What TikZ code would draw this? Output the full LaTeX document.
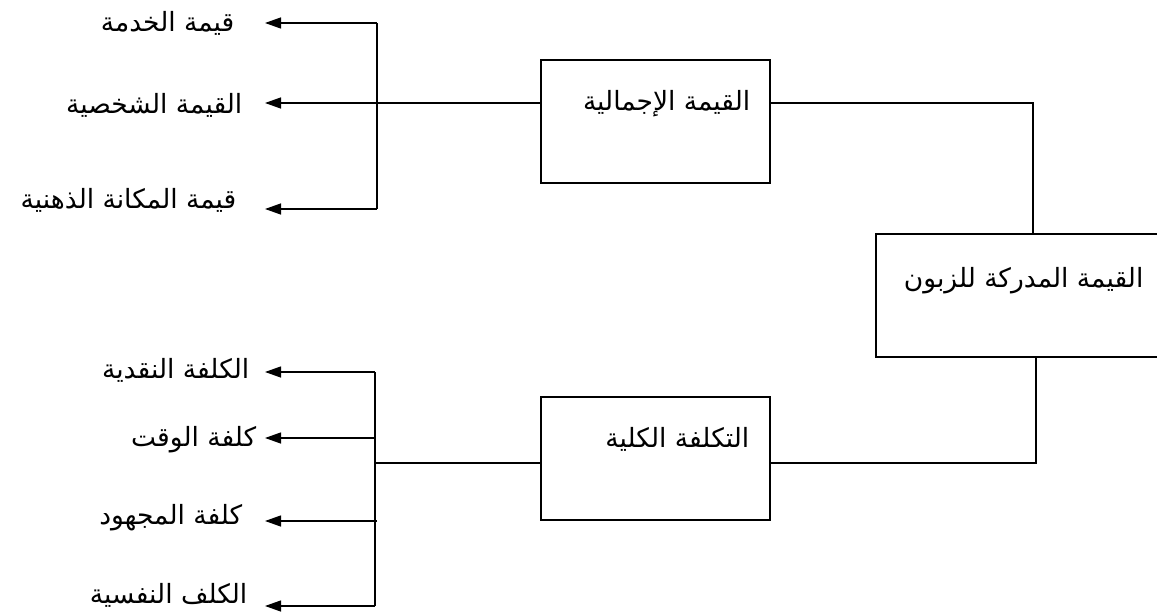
\documentclass[tikz,border=0pt]{standalone}
\usepackage{fontspec}
\TeXXeTstate=1
\newfontfamily\arabicfont[Script=Arabic]{DejaVu Sans}
\usetikzlibrary{arrows.meta}
\newcommand{\rtltext}[1]{\beginR #1\endR}
\begin{document}
\begin{tikzpicture}[x=1pt,y=-1pt,
  line width=1.3pt,
  box/.style={draw, line width=1.3pt, inner sep=0pt},
  lbl/.style={font=\arabicfont\fontsize{26.5}{30}\selectfont, inner sep=0pt},
  arr/.style={-{Triangle[length=16pt,width=11pt]}}]
\useasboundingbox (0,0) rectangle (1157,615);

% boxes
\node[box, minimum width=229pt, minimum height=123pt] (tv) at (655.5,121.5) {};
\node[box, minimum width=290pt, minimum height=123pt] (cv) at (1021,295.5) {};
\node[box, minimum width=229pt, minimum height=123pt] (tc) at (655.5,458.5) {};

\node[lbl, anchor=east] (tvl) at (751,104) {\rtltext{القيمة الإجمالية}};
\node[lbl, anchor=east] (cvl) at (1144,281) {\rtltext{القيمة المدركة للزبون}};
\node[lbl, anchor=east] (tcl) at (750,439) {\rtltext{التكلفة الكلية}};

% right connectors
\coordinate (j1) at (1033,103);
\coordinate (j2) at (1036,463);
\draw (tv.east |- j1) -- (j1) -- (j1 |- cv.north);
\draw (j2 |- cv.south) -- (j2) -- (tc.east |- j2);

% top bracket
\coordinate (v1) at (377,103);
\coordinate (v1t) at (377,23);
\coordinate (v1b) at (377,209);
\coordinate (p1) at (265,23);
\coordinate (p2) at (265,103);
\coordinate (p3) at (265,209);
\draw (tv.west |- v1) -- (v1);
\draw (v1t) -- (v1b);
\draw[arr] (v1t) -- (p1);
\draw[arr] (v1) -- (p2);
\draw[arr] (v1b) -- (p3);

\node[lbl, anchor=east] (l1) at (235,23) {\rtltext{قيمة الخدمة}};
\node[lbl, anchor=east] (l2) at (243,105) {\rtltext{القيمة الشخصية}};
\node[lbl, anchor=east] (l3) at (237,200) {\rtltext{قيمة المكانة الذهنية}};

% bottom bracket
\coordinate (v2) at (375,463);
\coordinate (v2a) at (375,372);
\coordinate (v2b) at (375,438);
\coordinate (v2c) at (377,521);
\coordinate (v2d) at (375,606);
\coordinate (q1) at (265,372);
\coordinate (q2) at (265,438);
\coordinate (q3) at (265,521);
\coordinate (q4) at (265,606);
\draw (tc.west |- v2) -- (v2);
\draw (v2a) -- (v2d);
\draw[arr] (v2a) -- (q1);
\draw[arr] (v2b) -- (q2);
\draw[arr] (v2c) -- (q3);
\draw[arr] (v2d) -- (q4);

\node[lbl, anchor=east] (m1) at (250,370) {\rtltext{الكلفة النقدية}};
\node[lbl, anchor=east] (m2) at (257,440) {\rtltext{كلفة الوقت}};
\node[lbl, anchor=east] (m3) at (243,518) {\rtltext{كلفة المجهود}};
\node[lbl, anchor=east] (m4) at (248,595) {\rtltext{الكلف النفسية}};
\end{tikzpicture}
\end{document}
